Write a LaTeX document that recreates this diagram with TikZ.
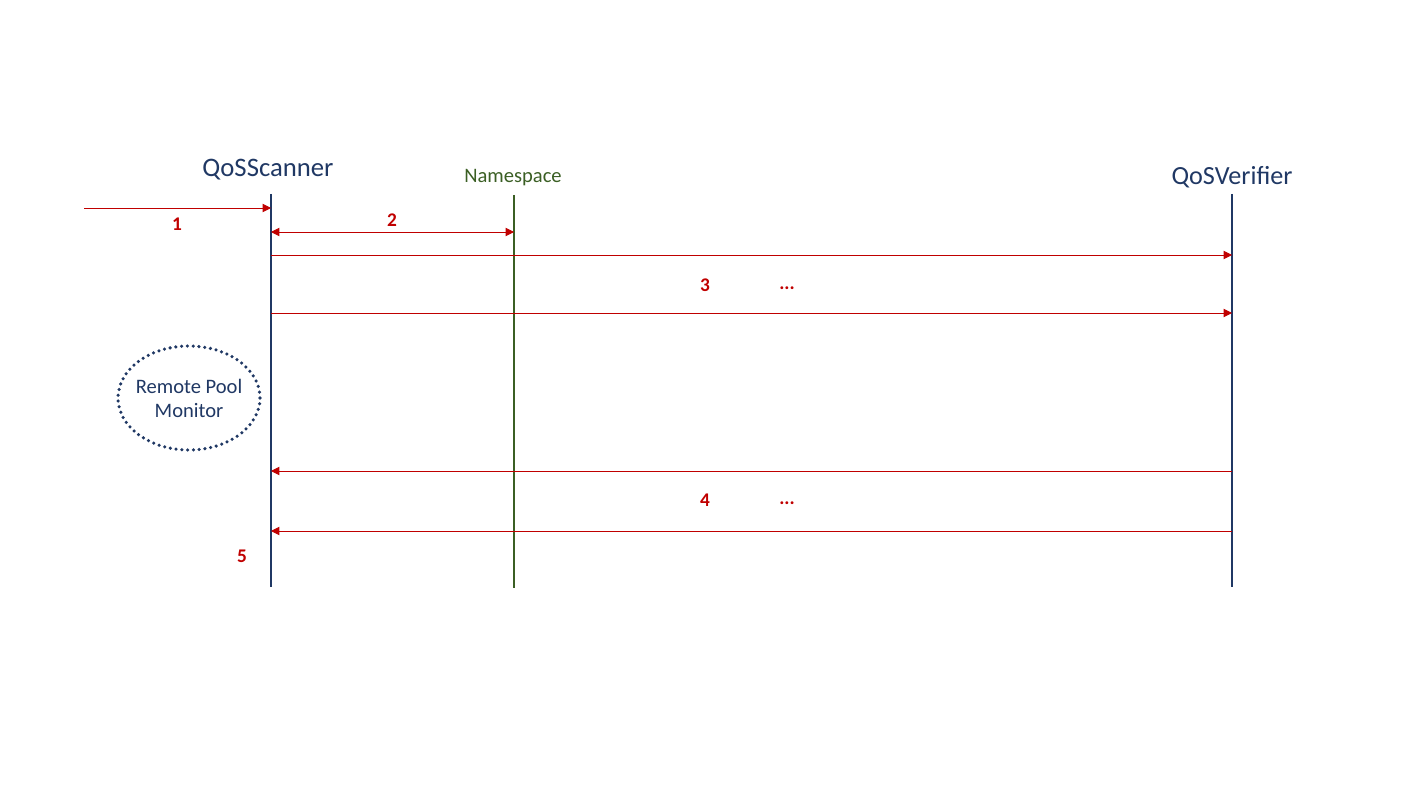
\documentclass[tikz,border=0pt]{standalone}
\usepackage{fontspec}
\setmainfont{Carlito}
\usetikzlibrary{shapes,arrows.meta,positioning}
\usepackage{xcolor}
\definecolor{navy}{HTML}{203864}
\definecolor{moss}{HTML}{3B5F24}
\definecolor{msgred}{HTML}{C00000}

\begin{document}
\begin{tikzpicture}[x=0.02cm, y=-0.02cm,
    lifeline/.style={line width=1.2pt},
    msg/.style={msgred, line width=0.5pt, -{Triangle[length=4.8pt,width=4.8pt]}},
    num/.style={msgred, font=\bfseries\fontsize{11}{13}\selectfont}]
    % Canvas
    \useasboundingbox (0,0) rectangle (1422,800);

    % Participants
    \node[navy, font=\fontsize{15.2}{18}\selectfont] (scanner) at (268,170) {QoSScanner};
    \node[moss, font=\fontsize{11.7}{14}\selectfont] (namespace) at (513,178) {Namespace};
    \node[navy, font=\fontsize{14.9}{18}\selectfont] (verifier) at (1232,177) {QoSVerifier};

    % Lifelines
    \coordinate (scantop) at (271,194);
    \coordinate (scanbot) at (271,587);
    \coordinate (nstop) at (514,195);
    \coordinate (nsbot) at (514,588);
    \coordinate (vertop) at (1232,194);
    \coordinate (verbot) at (1232,587);
    \draw[lifeline, navy] (scantop) -- (scanbot);
    \draw[lifeline, moss] (nstop) -- (nsbot);
    \draw[lifeline, navy] (vertop) -- (verbot);

    % Message points
    \coordinate (client) at (84,208);
    \coordinate (s1) at (271,208);
    \coordinate (s2) at (271,232);
    \coordinate (n2) at (514,232);
    \coordinate (s3a) at (271,255);
    \coordinate (v3a) at (1232,255);
    \coordinate (s3b) at (271,313);
    \coordinate (v3b) at (1232,313);
    \coordinate (s4a) at (271,471);
    \coordinate (v4a) at (1232,471);
    \coordinate (s4b) at (271,531);
    \coordinate (v4b) at (1232,531);

    % Messages
    \draw[msg] (client) -- (s1);
    \draw[msg, {Triangle[length=4.8pt,width=4.8pt]}-{Triangle[length=4.8pt,width=4.8pt]}] (s2) -- (n2);
    \draw[msg] (s3a) -- (v3a);
    \draw[msg] (s3b) -- (v3b);
    \draw[msg] (v4a) -- (s4a);
    \draw[msg] (v4b) -- (s4b);

    % Step numbers
    \node[num] (step1) at (177,224) {1};
    \node[num] (step2) at (392,220) {2};
    \node[num] (step3) at (705,285) {3};
    \node[num] (dots3) at (787,288) {...};
    \node[num] (step4) at (705,500) {4};
    \node[num] (dots4) at (787,503) {...};
    \node[num] (step5) at (242,556) {5};

    % Pool monitor
    \node[text=navy, align=center, font=\fontsize{11.7}{13.6}\selectfont] (monitor) at (189,398) {Remote Pool\\Monitor};
    \draw[navy, line width=2pt, dash pattern=on 0pt off 3.3pt, line cap=round]
        (monitor.center) ellipse [x radius=71, y radius=52];

\end{tikzpicture}
\end{document}
